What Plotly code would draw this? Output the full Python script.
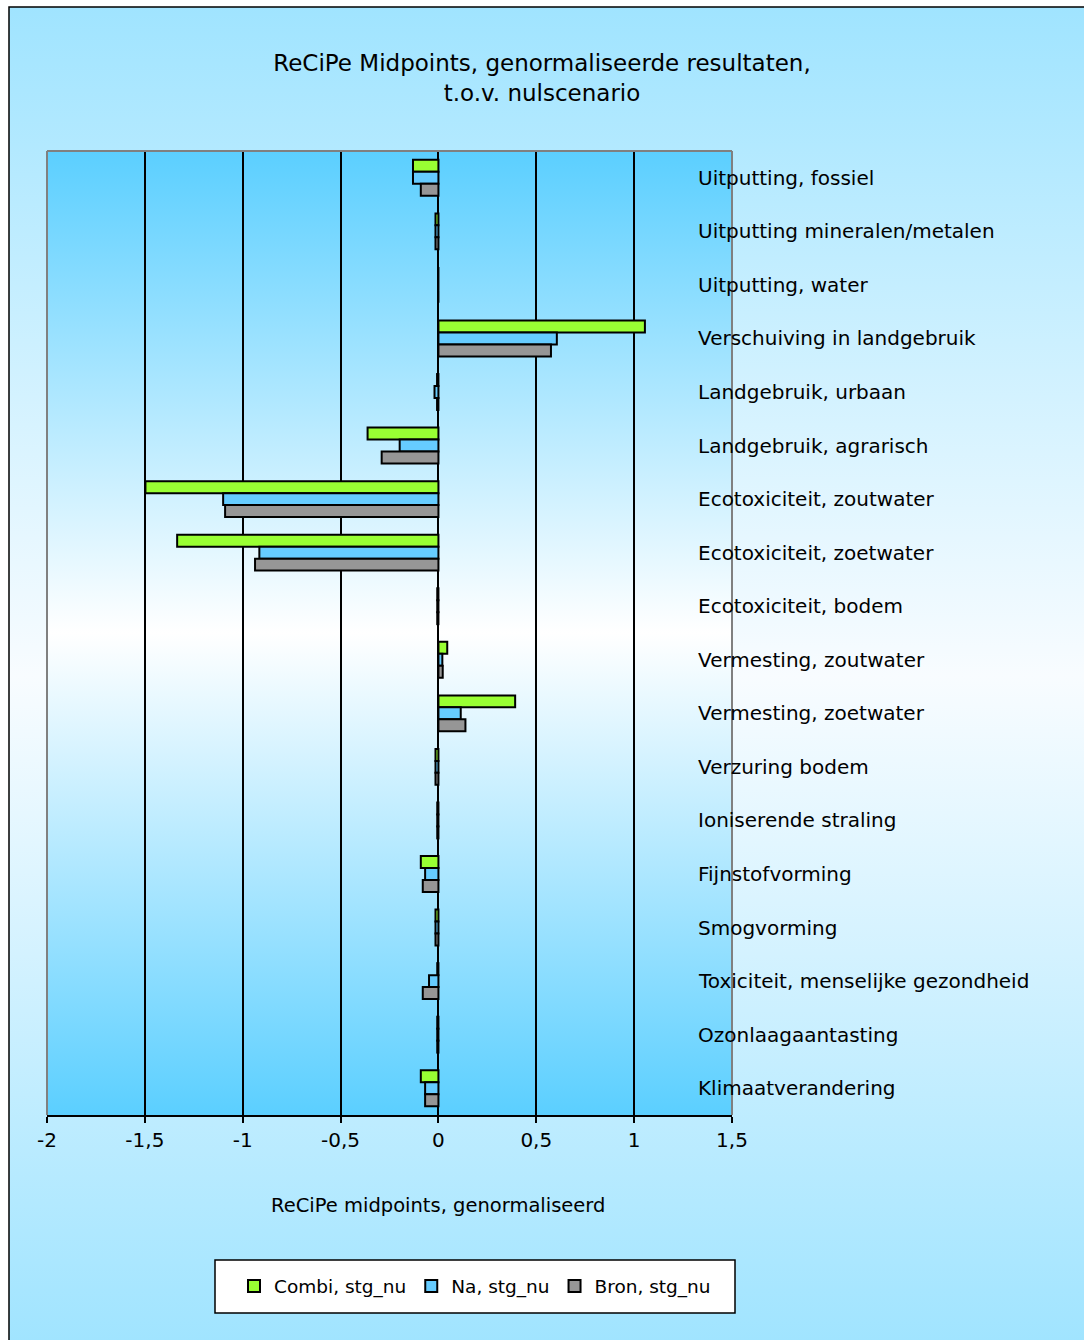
import base64
import plotly.graph_objects as go

# Impact categories, listed top to bottom
categories = [
    "Uitputting, fossiel",
    "Uitputting mineralen/metalen",
    "Uitputting, water",
    "Verschuiving in landgebruik",
    "Landgebruik, urbaan",
    "Landgebruik, agrarisch",
    "Ecotoxiciteit, zoutwater",
    "Ecotoxiciteit, zoetwater",
    "Ecotoxiciteit, bodem",
    "Vermesting, zoutwater",
    "Vermesting, zoetwater",
    "Verzuring bodem",
    "Ioniserende straling",
    "Fijnstofvorming",
    "Smogvorming",
    "Toxiciteit, menselijke gezondheid",
    "Ozonlaagaantasting",
    "Klimaatverandering",
]

# Normalised midpoint results relative to the zero scenario
combi = [-0.13, -0.015, 0.0, 1.055, -0.007, -0.362, -1.497, -1.335, -0.006, 0.045,
         0.392, -0.015, -0.006, -0.09, -0.015, -0.006, -0.006, -0.09]
na = [-0.13, -0.015, 0.0, 0.605, -0.02, -0.198, -1.10, -0.915, -0.006, 0.02,
      0.114, -0.015, -0.006, -0.068, -0.015, -0.048, -0.006, -0.068]
bron = [-0.09, -0.015, 0.0, 0.575, -0.007, -0.29, -1.09, -0.937, -0.006, 0.022,
        0.138, -0.015, -0.006, -0.08, -0.015, -0.08, -0.006, -0.068]

series_names = ["Combi, stg_nu", "Na, stg_nu", "Bron, stg_nu"]
series_colors = ["#99FF33", "#66CCFF", "#969696"]

tick_vals = [-2, -1.5, -1, -0.5, 0, 0.5, 1, 1.5]
tick_text = ["-2", "-1,5", "-1", "-0,5", "0", "0,5", "1", "1,5"]

title_text = "ReCiPe Midpoints, genormaliseerde resultaten,<br>t.o.v. nulscenario"
axis_title = "ReCiPe midpoints, genormaliseerd"

FONT = "DejaVu Sans"
W, H = 1084, 1340
L, R, T, B = 47, 732, 151, 1115


def px_x(px):
    return (px - L) / (R - L)


def px_y(py):
    return (B - py) / (B - T)


def gradient(edge, middle):
    svg = (
        '<svg xmlns="http://www.w3.org/2000/svg" width="100" height="100" '
        'viewBox="0 0 100 100" preserveAspectRatio="none">'
        '<defs><linearGradient id="g" x1="0" y1="0" x2="0" y2="1">'
        f'<stop offset="0" stop-color="{edge}"/>'
        f'<stop offset="0.5" stop-color="{middle}"/>'
        f'<stop offset="1" stop-color="{edge}"/>'
        '</linearGradient></defs>'
        '<rect width="100" height="100" fill="url(#g)"/></svg>'
    )
    return "data:image/svg+xml;base64," + base64.b64encode(svg.encode()).decode()


fig = go.Figure()
for name, color, vals in zip(series_names, series_colors, [combi, na, bron]):
    fig.add_trace(go.Bar(
        y=categories, x=vals, name=name, orientation="h",
        marker=dict(color=color, line=dict(color="black", width=2)),
    ))

annotations = [
    dict(text=c, x=px_x(696), y=c, xref="paper", yref="y", xanchor="left",
         yanchor="middle", showarrow=False, font=dict(family=FONT, size=20, color="black"))
    for c in categories
]
annotations.append(dict(
    text=axis_title, x=px_x(437.5), y=px_y(1205), xref="paper", yref="paper",
    xanchor="center", yanchor="middle", showarrow=False,
    font=dict(family=FONT, size=19.5, color="black"),
))

images = [
    dict(source=gradient("#A0E4FF", "#F8FCFF"), xref="paper", yref="paper",
         x=px_x(9), y=px_y(7), sizex=(1110 - 9) / (R - L), sizey=(1345 - 7) / (B - T),
         xanchor="left", yanchor="top", sizing="stretch", layer="below"),
    dict(source=gradient("#5BCFFF", "#FFFFFF"), xref="paper", yref="paper",
         x=0, y=1, sizex=1, sizey=1,
         xanchor="left", yanchor="top", sizing="stretch", layer="below"),
]

shapes = [
    # chart area frame
    dict(type="rect", xref="paper", yref="paper", x0=px_x(9), x1=px_x(1110),
         y0=px_y(1345), y1=px_y(7), line=dict(color="black", width=1.5), layer="below"),
    # plot area frame (left, top, right)
    dict(type="line", xref="paper", yref="paper", x0=0, x1=0, y0=0, y1=1,
         line=dict(color="#808080", width=2), layer="above"),
    dict(type="line", xref="paper", yref="paper", x0=0, x1=1, y0=1, y1=1,
         line=dict(color="#808080", width=2), layer="above"),
    dict(type="line", xref="paper", yref="paper", x0=1, x1=1, y0=0, y1=1,
         line=dict(color="#808080", width=2), layer="above"),
    # legend box
    dict(type="rect", xref="paper", yref="paper", x0=px_x(215), x1=px_x(735),
         y0=px_y(1313), y1=px_y(1260), fillcolor="white",
         line=dict(color="black", width=1.5), layer="below"),
]

fig.update_layout(
    width=W, height=H, autosize=False,
    margin=dict(l=L, r=W - R, t=T, b=H - B, pad=0),
    paper_bgcolor="white", plot_bgcolor="rgba(0,0,0,0)",
    font=dict(family=FONT, color="black"),
    title=dict(text=title_text, x=0.5, xanchor="center", xref="container",
               y=1 - 71 / H, yanchor="top", yref="container",
               font=dict(family=FONT, size=23, color="black")),
    barmode="group", bargap=0.33, bargroupgap=0,
    xaxis=dict(range=[-2, 1.5], tickvals=tick_vals, ticktext=tick_text,
               showgrid=True, gridcolor="black", gridwidth=1.6,
               zeroline=True, zerolinecolor="black", zerolinewidth=1.8,
               showline=True, linecolor="black", linewidth=1.5,
               ticks="outside", ticklen=6, tickwidth=1.5, tickcolor="black",
               tickfont=dict(family=FONT, size=20, color="black"), fixedrange=True),
    yaxis=dict(type="category", categoryorder="array", categoryarray=categories,
               range=[len(categories) - 0.5, -0.5], showticklabels=False,
               showgrid=False, zeroline=False, showline=False, ticks="", fixedrange=True),
    legend=dict(orientation="h", x=px_x(475), xanchor="center",
                y=px_y(1286.5), yanchor="middle", bgcolor="rgba(0,0,0,0)",
                borderwidth=0, font=dict(family=FONT, size=18.5, color="black"),
                traceorder="normal"),
    annotations=annotations, images=images, shapes=shapes,
    showlegend=True,
)

fig.write_html("out.html")
